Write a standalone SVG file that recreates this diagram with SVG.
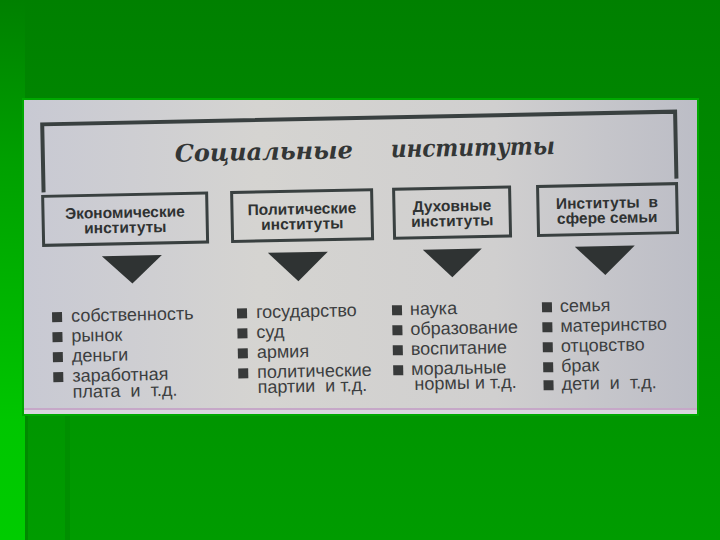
<svg xmlns="http://www.w3.org/2000/svg" width="720" height="540" viewBox="0 0 720 540">
<defs>
<linearGradient id="bg" x1="0" y1="0" x2="0" y2="1">
<stop offset="0" stop-color="#008000"/>
<stop offset="0.2" stop-color="#008600"/>
<stop offset="1" stop-color="#009c00"/>
</linearGradient>
<linearGradient id="strip" x1="0" y1="0" x2="0" y2="1">
<stop offset="0" stop-color="#008000"/>
<stop offset="0.3" stop-color="#00a000"/>
<stop offset="0.78" stop-color="#00c600"/>
<stop offset="1" stop-color="#00cc00"/>
</linearGradient>
<linearGradient id="paper" x1="0" y1="0" x2="1" y2="0">
<stop offset="0" stop-color="#c8c9d3"/>
<stop offset="0.35" stop-color="#d5d4d1"/>
<stop offset="0.7" stop-color="#d0cfcf"/>
<stop offset="1" stop-color="#bcbdc6"/>
</linearGradient>
<style>
.box{fill:none;stroke:#394040;stroke-width:3}
.bt{font-family:"Liberation Sans",Arial,sans-serif;font-weight:bold;font-size:15.5px;fill:#2f3232;text-anchor:middle;white-space:pre}
.li{font-family:"Liberation Sans",Arial,sans-serif;font-size:18px;fill:#3c3e40;white-space:pre}
.bl{fill:#383a3a}
.tri{fill:#2f3333}
.ttl{font-family:"DejaVu Serif","Liberation Serif",serif;font-weight:bold;font-style:italic;font-size:24px;fill:#333636}
</style>
</defs>
<rect x="0" y="0" width="720" height="540" fill="url(#bg)"/>
<rect x="0" y="0" width="25" height="540" fill="url(#strip)"/>
<rect x="25" y="414" width="3" height="126" fill="#008a00"/>
<rect x="65" y="414" width="5" height="126" fill="#008f00"/>
<rect x="23" y="99" width="675" height="316" fill="none" stroke="#00a800" stroke-width="2"/>
<rect x="24" y="100" width="673" height="314" fill="url(#paper)"/>
<rect x="24" y="408" width="673" height="2" fill="#c6a8c8"/>
<rect x="24" y="410" width="673" height="4" fill="#d8d6dc"/>
<g transform="rotate(-1.15 360 260)">
<g id="title">
<path d="M45,186 V118 H678 V185" fill="none" stroke="#394040" stroke-width="4"/>
<text class="ttl" x="177" y="158" textLength="178" lengthAdjust="spacingAndGlyphs">Социальные</text>
<text class="ttl" x="393" y="158" textLength="164" lengthAdjust="spacingAndGlyphs">институты</text>
</g>
<g id="connectors">
<polygon class="tri" points="102,251 162,251 132,279"/>
<polygon class="tri" points="268,251 328,251 298,280"/>
<polygon class="tri" points="423,251 482,251 452,279"/>
<polygon class="tri" points="575,251 635,251 605,280"/>
</g>
<g id="economic">
<rect class="box" x="44" y="190" width="164" height="49"/>
<text class="bt" x="126" y="213">Экономические</text>
<text class="bt" x="126" y="228">институты</text>
<rect class="bl" x="51" y="306" width="10" height="10"/>
<text class="li" x="70" y="316">собственность</text>
<rect class="bl" x="51" y="326" width="10" height="10"/>
<text class="li" x="70" y="336">рынок</text>
<rect class="bl" x="51" y="346" width="10" height="10"/>
<text class="li" x="70" y="356">деньги</text>
<rect class="bl" x="51" y="366" width="10" height="10"/>
<text class="li" x="70" y="376">заработная</text>
<text class="li" x="70" y="392">плата  и  т.д.</text>
</g>
<g id="political">
<rect class="box" x="233" y="190" width="140" height="49"/>
<text class="bt" x="303" y="213">Политические</text>
<text class="bt" x="303" y="228">институты</text>
<rect class="bl" x="236" y="306" width="10" height="10"/>
<text class="li" x="255" y="316">государство</text>
<rect class="bl" x="236" y="326" width="10" height="10"/>
<text class="li" x="255" y="336">суд</text>
<rect class="bl" x="236" y="346" width="10" height="10"/>
<text class="li" x="255" y="356">армия</text>
<rect class="bl" x="236" y="366" width="10" height="10"/>
<text class="li" x="255" y="376">политические</text>
<text class="li" x="255" y="391">партии  и т.д.</text>
</g>
<g id="spiritual">
<rect class="box" x="395" y="190" width="116" height="49"/>
<text class="bt" x="453" y="213">Духовные</text>
<text class="bt" x="453" y="228">институты</text>
<rect class="bl" x="391" y="306" width="10" height="10"/>
<text class="li" x="409" y="316">наука</text>
<rect class="bl" x="391" y="326" width="10" height="10"/>
<text class="li" x="409" y="336">образование</text>
<rect class="bl" x="391" y="346" width="10" height="10"/>
<text class="li" x="409" y="356">воспитание</text>
<rect class="bl" x="391" y="366" width="10" height="10"/>
<text class="li" x="409" y="376">моральные</text>
<text class="li" x="412" y="391">нормы и т.д.</text>
</g>
<g id="family">
<rect class="box" x="539" y="190" width="139" height="49"/>
<text class="bt" x="608" y="213">Институты  в</text>
<text class="bt" x="608" y="228">сфере семьи</text>
<rect class="bl" x="541" y="306" width="10" height="10"/>
<text class="li" x="559" y="316">семья</text>
<rect class="bl" x="541" y="326" width="10" height="10"/>
<text class="li" x="559" y="336">материнство</text>
<rect class="bl" x="541" y="346" width="10" height="10"/>
<text class="li" x="559" y="356">отцовство</text>
<rect class="bl" x="541" y="366" width="10" height="10"/>
<text class="li" x="559" y="376">брак</text>
<rect class="bl" x="541" y="384" width="10" height="10"/>
<text class="li" x="559" y="394">дети  и  т.д.</text>
</g>
</g>
</svg>
